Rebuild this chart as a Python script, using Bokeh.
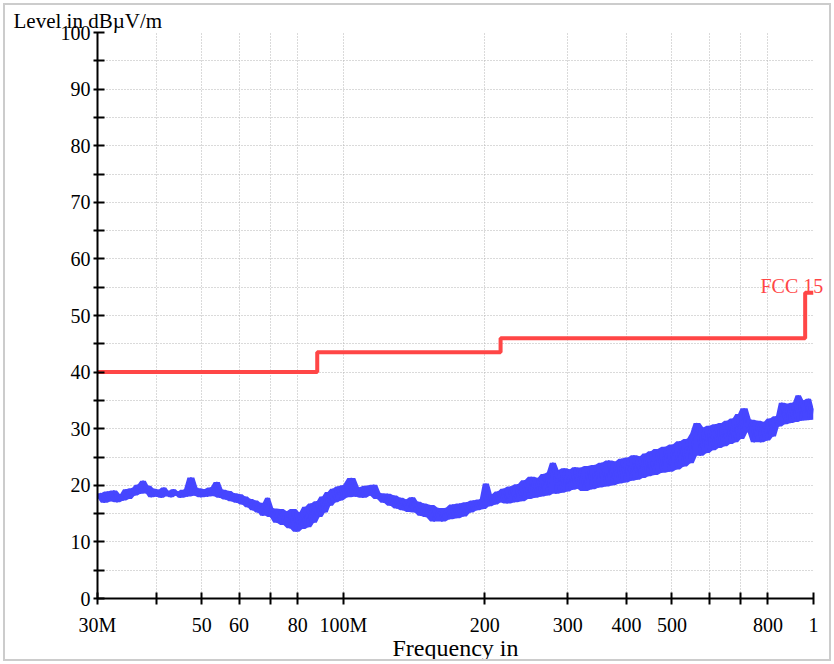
from bokeh.plotting import figure
from bokeh.models import FixedTicker, LinearAxis
from bokeh.embed import file_html
from bokeh.resources import INLINE

freq_mhz = [
    30.0, 30.5, 31.0, 31.5, 32.0, 32.5, 33.0, 33.5, 34.0, 34.5, 35.0, 35.5, 36.0, 36.5, 37.0, 37.5,
    38.0, 38.5, 39.0, 39.5, 40.0, 40.5, 41.0, 41.5, 42.0, 42.5, 43.0, 43.5, 44.0, 44.5, 45.0,
    45.8, 46.6, 47.4, 48.2, 49.0, 49.8, 50.6, 51.4, 52.2, 53.0, 53.8, 54.6, 55.4, 56.2, 57.0, 57.8,
    58.6, 59.4, 60.2, 61.0, 61.8, 62.6, 63.4, 64.2, 65.0, 65.8, 66.6, 67.4, 68.2, 69.0, 69.8,
    71.0, 72.2, 73.4, 74.6, 75.8, 77.0, 78.2, 79.4, 80.6, 81.8, 83.0, 84.2, 85.4, 86.6, 87.8,
    89.0, 90.2, 91.4, 92.6, 93.8, 95.0, 96.2, 97.4, 98.6, 99.8,
    102, 104, 106, 108, 110, 112, 114, 116, 118, 120, 122, 124, 126, 128, 130, 132, 134, 136,
    138, 140, 142, 144, 146, 148, 150,
    153, 156, 159, 162, 165, 168, 171, 174, 177, 180, 183, 186, 189, 192, 195, 198, 201, 204,
    207, 210, 213, 216, 219,
    223, 227, 231, 235, 239, 243, 247, 251, 255, 259, 263, 267, 271, 275, 279, 283, 287, 291,
    295, 299, 303, 307, 311, 315, 319,
    325, 331, 337, 343, 349, 355, 361, 367, 373, 379, 385, 391, 397, 403, 409, 415, 421, 427,
    433, 439, 445, 451, 457,
    466, 475, 484, 493, 502, 511, 520, 529, 538, 547, 556, 565, 574, 583, 592, 601, 610, 619,
    628, 637, 646, 655, 664, 673, 682, 691, 700,
    712, 724, 736, 748, 760, 772, 784, 796, 808, 820, 832, 844, 856, 868, 880, 892, 904, 916,
    928, 940, 952, 964, 976, 988, 1000,
]
level_dbuv = [
    17.8, 18.6, 16.9, 18.9, 17.2, 19.1, 17.0, 18.4, 17.3, 19.3, 17.6, 19.5, 18.2, 20.1, 18.5, 20.8,
    18.6, 19.9, 17.9, 19.4, 18.0, 19.2, 17.8, 19.6, 18.1, 19.0, 17.9, 19.3, 18.2, 18.9, 17.8,
    19.2, 18.0, 21.4, 18.2, 19.5, 17.9, 19.3, 18.0, 19.6, 18.1, 20.6, 17.8, 19.2, 17.5, 19.0, 17.2,
    18.6, 16.9, 18.4, 16.6, 18.0, 16.1, 17.6, 15.6, 17.3, 15.2, 16.9, 14.6, 16.6, 17.8, 14.4,
    15.9, 13.4, 15.8, 13.0, 15.4, 12.4, 15.8, 11.8, 15.2, 12.3, 16.2, 12.6, 16.8, 13.4, 17.2,
    14.4, 18.0, 15.2, 18.8, 16.4, 19.4, 17.0, 19.8, 17.3, 20.0,
    17.9, 21.3, 18.0, 19.6, 17.8, 19.9, 18.2, 20.1, 17.6, 18.6, 16.9, 18.5, 16.4, 18.2, 15.9, 17.8,
    15.6, 17.5, 15.3, 17.9, 15.2, 17.1, 14.6, 16.8, 14.4,
    16.5, 13.6, 16.0, 13.6, 16.0, 14.0, 16.6, 14.2, 16.8, 14.5, 17.0, 15.2, 17.3, 15.6, 17.5, 15.8,
    20.3, 16.3, 18.4, 16.6, 18.9, 17.0, 19.4,
    16.8, 19.8, 17.0, 20.2, 17.2, 20.9, 17.6, 21.5, 17.8, 21.3, 18.0, 22.0, 18.2, 22.3, 24.0, 18.5,
    22.7, 18.7, 23.0, 18.9, 22.8, 19.2, 23.2, 19.4, 23.1,
    19.0, 23.4, 19.3, 23.6, 19.6, 24.0, 19.8, 24.4, 20.0, 24.2, 20.3, 24.7, 20.5, 24.9, 20.8, 25.3,
    21.0, 25.1, 21.3, 25.6, 21.6, 26.0, 21.8,
    26.4, 22.2, 26.8, 22.4, 27.2, 22.8, 27.8, 23.3, 28.2, 23.9, 29.2, 31.0, 25.2, 30.2, 25.7, 30.5,
    26.2, 30.8, 26.6, 31.0, 26.9, 31.4, 27.3, 31.8, 27.6, 32.6, 28.2,
    33.6, 29.4, 31.6, 27.6, 31.4, 27.6, 31.2, 27.9, 31.8, 28.6, 32.2, 30.4, 34.6, 30.8, 34.4, 31.0,
    34.6, 31.2, 35.9, 31.4, 35.0, 31.5, 35.3, 31.6, 33.6,
]

# ---- FCC 15 limit (step edges) ----
limit_freq = [30, 88, 216, 960, 1000]
limit_level = [40, 43.5, 46, 54, 54]
limit_name = "FCC 15"

# ---- axes ----
y_ticks = [0, 10, 20, 30, 40, 50, 60, 70, 80, 90, 100]
y_minor_ticks = [5, 15, 25, 35, 45, 55, 65, 75, 85, 95]
x_ticks = [30, 40, 50, 60, 70, 80, 100, 200, 300, 400, 500, 600, 700, 800, 1000]
x_tick_labels = ["30M", "", "50", "60", "", "80", "100M", "200", "300", "400", "500", "", "", "800", "1"]
y_title = "Level in dB\u00b5V/m"
x_title = "Frequency in"

FONT = "Liberation Serif"
BLUE = "#4646ff"
RED = "#ff4646"
GRID = "#b4b4b4"

# band of the noisy sweep: local envelope of neighbouring read points
n = len(level_dbuv)
band_lo = [min(level_dbuv[max(i - 1, 0):i + 2]) for i in range(n)]
band_hi = [max(level_dbuv[max(i - 1, 0):i + 2]) for i in range(n)]

p = figure(width=834, height=664, x_axis_type="log", x_range=(30, 1000), y_range=(0, 100),
           output_backend="svg", toolbar_location=None,
           min_border_left=97, min_border_right=21, min_border_top=32, min_border_bottom=66)
p.background_fill_color = "white"
p.border_fill_color = "white"
p.outline_line_color = None

p.varea(x=freq_mhz, y1=band_lo, y2=band_hi, fill_color=BLUE, fill_alpha=1.0)
p.line(freq_mhz, level_dbuv, line_color=BLUE, line_width=1.6)
p.step(limit_freq, limit_level, mode="after", line_color=RED, line_width=4)

xa = p.xaxis[0]
xa.ticker = FixedTicker(ticks=x_ticks, minor_ticks=[])
xa.major_label_overrides = dict(zip(x_ticks, x_tick_labels))
xa.major_tick_in = 6
xa.major_tick_out = 6
xa.minor_tick_line_color = None
xa.major_label_standoff = 9
xa.axis_label = x_title
xa.axis_label_text_font = FONT
xa.axis_label_text_font_size = "24px"
xa.axis_label_text_font_style = "normal"
xa.axis_label_text_color = "black"
xa.axis_label_standoff = -4

ya = p.yaxis[0]
ya.ticker = FixedTicker(ticks=y_ticks, minor_ticks=y_minor_ticks)
ya.major_tick_in = 7
ya.major_tick_out = 4
ya.minor_tick_in = 7
ya.minor_tick_out = 4
ya.major_label_standoff = 3

for ax in (xa, ya):
    ax.axis_line_color = "black"
    ax.axis_line_width = 2
    ax.major_tick_line_color = "black"
    ax.major_tick_line_width = 2
    ax.minor_tick_line_width = 2
    ax.major_label_text_font = FONT
    ax.major_label_text_font_size = "20px"
    ax.major_label_text_color = "black"

# limit name, drawn as a label-only axis on the right so it can pass the frame edge
name_axis = LinearAxis(ticker=FixedTicker(ticks=[55.2], minor_ticks=[]),
                       major_label_overrides={55.2: limit_name},
                       axis_line_color=None, major_tick_line_color=None,
                       minor_tick_line_color=None, major_tick_in=0, major_tick_out=0,
                       major_label_standoff=-53, major_label_text_font=FONT,
                       major_label_text_font_size="20px", major_label_text_color=RED)
p.add_layout(name_axis, "right")

p.grid.grid_line_color = GRID
p.grid.grid_line_dash = "1 2"
p.ygrid.minor_grid_line_color = GRID
p.ygrid.minor_grid_line_dash = "1 2"

p.title.text = y_title
p.title.align = "left"
p.title.offset = -84
p.title.standoff = 0
p.title.text_font = FONT
p.title.text_font_size = "21px"
p.title.text_font_style = "normal"
p.title.text_color = "black"

p.stylesheets = [":host::after { content: ''; position: absolute; left: 3px; top: 3px; "
                 "right: 3px; bottom: 3px; border: 2px solid #cccccc; "
                 "pointer-events: none; z-index: 10; }"]

open("out.html", "w").write(file_html(p, INLINE))
